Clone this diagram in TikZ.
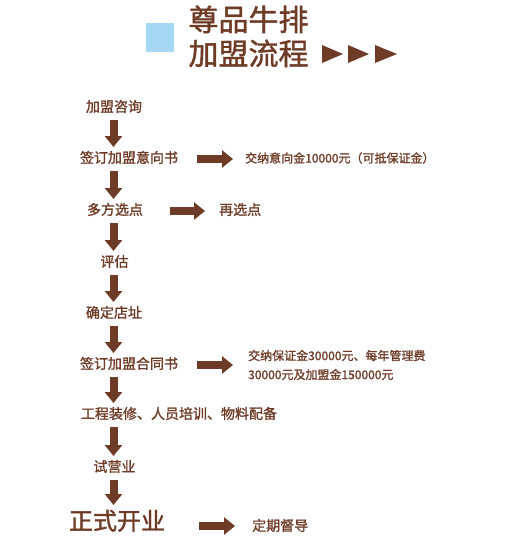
\documentclass[tikz,border=0pt]{standalone}
\usepackage{fontspec}
\setmainfont{Noto Sans CJK SC}[FakeBold=1.3]
\usetikzlibrary{arrows.meta}
\definecolor{brn}{HTML}{6E3B27}
\definecolor{sky}{HTML}{A6D8F6}
\tikzset{
  lbl/.style={inner sep=0pt, text=brn, font=\fontsize{14}{16}\selectfont, text height=0.88em, text depth=0.12em},
  side/.style={inner sep=0pt, text=brn, font=\fontsize{12}{19}\selectfont, anchor=west, align=left},
  big/.style={lbl, font=\fontsize{24}{26}\selectfont},
  ttl/.style={inner sep=0pt, text=brn, font=\fontsize{30}{32}\selectfont, text height=0.88em, text depth=0.12em},
  blk/.style={draw=brn, line width=8pt, -{Triangle[width=17pt,length=11pt,fill=brn]}},
  tri/.style={fill=brn, draw=none}
}
\begin{document}
\begin{tikzpicture}[x=1pt,y=-1pt]
\useasboundingbox (0,0) rectangle (508,558);
\fill[white] (0,0) rectangle (508,558);
% title
\fill[sky] (146,23) rectangle (174,52);
\node[ttl] (t1) at (248.5,27) {尊品牛排};
\node[ttl] (t2) at (248.5,61) {加盟流程};
\fill[tri] (322,45) -- (343,54) -- (322,63) -- cycle;
\fill[tri] (348,45) -- (369,54) -- (348,63) -- cycle;
\fill[tri] (375,45) -- (397,54) -- (375,63) -- cycle;
% column
\coordinate (col) at (113.5,0);
\node[lbl] (a) at (114,108) {加盟咨询};
\node[lbl] (b) at (129,159) {签订加盟意向书};
\node[lbl] (c) at (115,211) {多方选点};
\node[lbl] (d) at (114.5,263) {评估};
\node[lbl] (e) at (114,314) {确定店址};
\node[lbl] (f) at (129,365) {签订加盟合同书};
\node[lbl] (g) at (179,415) {工程装修、人员培训、物料配备};
\node[lbl] (h) at (114.5,468) {试营业};
\node[big] (i) at (117,526) {正式开业};
% side texts
\node[side] (b2) at (245,158) {交纳意向金10000元（可抵保证金）};
\node[lbl, anchor=west] (c2) at (219,211) {再选点};
\node[side] (f2) at (248,365) {交纳保证金30000元、每年管理费\\30000元及加盟金150000元};
\node[lbl, anchor=west] (i2) at (252,527) {定期督导};
% down arrows
\foreach \p/\q in {a/b,b/c,c/d,d/e,e/f,f/g,g/h}
  \draw[blk, shorten <=12pt, shorten >=12pt] (\p.center -| col) -- (\q.center -| col);
\draw[blk, shorten <=12pt, shorten >=21pt] (h.center -| col) -- (i.center -| col);
% right arrows
\draw[blk, shorten <=19pt, shorten >=12pt] (b.east) -- (b.east -| b2.west);
\draw[blk, shorten <=27pt, shorten >=14pt] (c.east) -- (c.east -| c2.west);
\draw[blk, shorten <=19pt, shorten >=15pt] (f.east) -- (f.east -| f2.west);
\draw[blk, shorten <=34pt, shorten >=17pt] (i.east) -- (i.east -| i2.west);
\end{tikzpicture}
\end{document}
